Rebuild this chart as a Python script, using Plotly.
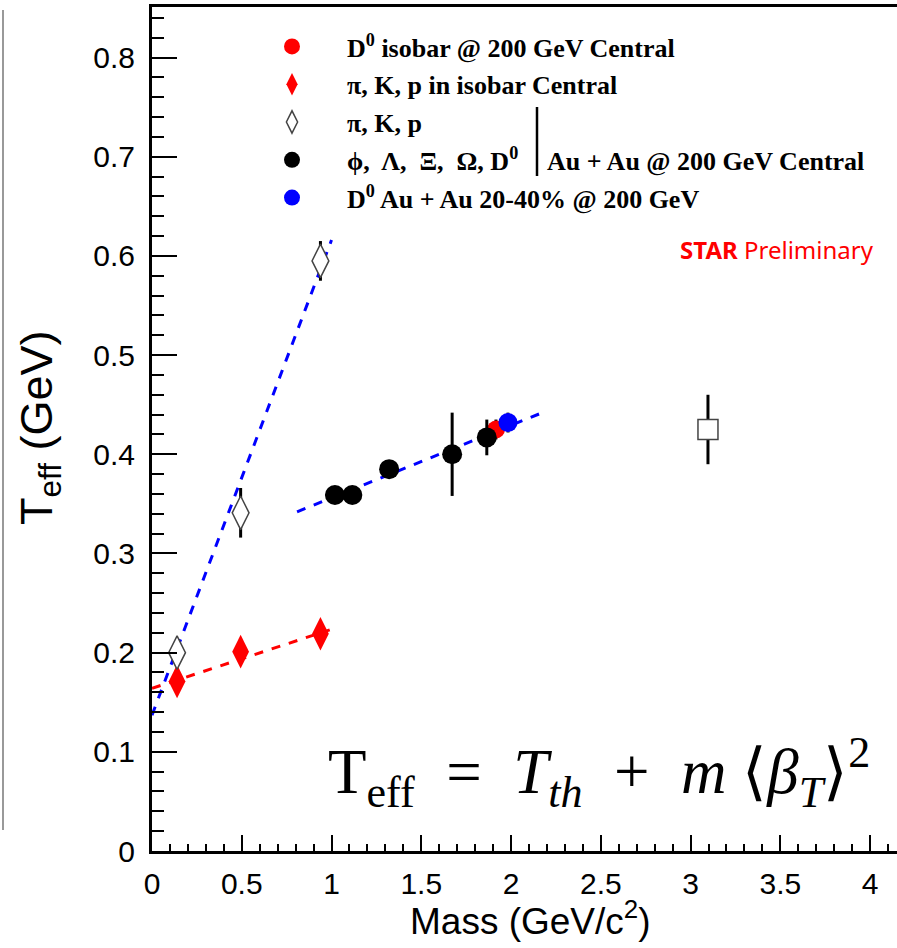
import plotly.graph_objects as go

# ---- data ----
pkp_mass = [0.1396, 0.4937, 0.9383]
pkp_auau_T = [0.200, 0.341, 0.595]
pkp_auau_err = [0.004, 0.025, 0.020]
pkp_iso_T = [0.171, 0.201, 0.219]
pkp_iso_err = [0.003, 0.006, 0.005]

hyp_mass = [1.019, 1.116, 1.321, 1.672, 1.865]
hyp_T = [0.359, 0.359, 0.385, 0.400, 0.417]
hyp_err = [0.004, 0.004, 0.005, 0.042, 0.018]

d0_iso_mass = [1.916]
d0_iso_T = [0.425]
d0_iso_err = [0.010]

d0_mid_mass = [1.983]
d0_mid_T = [0.432]
d0_mid_err = [0.010]

jpsi_mass = [3.097]
jpsi_T = [0.425]
jpsi_err = [0.035]

# fit lines (end points)
fit_pkp_auau_x = [0.0, 1.0]
fit_pkp_auau_y = [0.137, 0.616]
fit_pkp_iso_x = [0.0, 0.99]
fit_pkp_iso_y = [0.164, 0.223]
fit_heavy_x = [0.808, 2.195]
fit_heavy_y = [0.342, 0.4435]

x_ticks = [0, 0.5, 1, 1.5, 2, 2.5, 3, 3.5, 4]
x_tick_text = ["0", "0.5", "1", "1.5", "2", "2.5", "3", "3.5", "4"]
y_ticks = [0, 0.1, 0.2, 0.3, 0.4, 0.5, 0.6, 0.7, 0.8]
y_tick_text = ["0", "0.1", "0.2", "0.3", "0.4", "0.5", "0.6", "0.7", "0.8"]

legend_labels = [
    "D<sup>0</sup> isobar @ 200 GeV Central",
    "π, K, p in isobar Central",
    "π, K, p",
    "ϕ,  Λ,  Ξ,  Ω, D<sup>0</sup>",
    "D<sup>0</sup> Au + Au 20-40% @ 200 GeV",
]

fig = go.Figure()

# fit lines
fig.add_trace(go.Scatter(x=fit_pkp_auau_x, y=fit_pkp_auau_y, mode="lines",
                         line=dict(color="#0000ff", width=3, dash="dash"),
                         showlegend=False, hoverinfo="skip"))
fig.add_trace(go.Scatter(x=fit_pkp_iso_x, y=fit_pkp_iso_y, mode="lines",
                         line=dict(color="#ff0000", width=3, dash="dash"),
                         showlegend=False, hoverinfo="skip"))
fig.add_trace(go.Scatter(x=fit_heavy_x, y=fit_heavy_y, mode="lines",
                         line=dict(color="#0000ff", width=3, dash="dash"),
                         showlegend=False, hoverinfo="skip"))

eb = dict(type="data", color="black", thickness=3, width=0)

fig.add_trace(go.Scatter(
    x=d0_iso_mass, y=d0_iso_T, mode="markers", name=legend_labels[0], legendgroup="a",
    error_y=dict(array=d0_iso_err, **eb),
    marker=dict(symbol="circle", size=18, color="#ff0000")))
fig.add_trace(go.Scatter(
    x=pkp_mass, y=pkp_iso_T, mode="markers", name=legend_labels[1], legendgroup="b",
    error_y=dict(array=pkp_iso_err, **eb),
    marker=dict(symbol="diamond-tall", size=24, color="#ff0000")))
fig.add_trace(go.Scatter(
    x=pkp_mass, y=pkp_auau_T, mode="markers", name=legend_labels[2], legendgroup="c",
    error_y=dict(array=pkp_auau_err, **eb),
    marker=dict(symbol="diamond-tall", size=24, color="white",
                line=dict(color="#444444", width=1.5))))
fig.add_trace(go.Scatter(
    x=hyp_mass, y=hyp_T, mode="markers", name=legend_labels[3], legendgroup="d",
    error_y=dict(array=hyp_err, **eb),
    marker=dict(symbol="circle", size=20, color="black")))
fig.add_trace(go.Scatter(
    x=d0_mid_mass, y=d0_mid_T, mode="markers", name=legend_labels[4], legendgroup="e",
    error_y=dict(array=d0_mid_err, **eb),
    marker=dict(symbol="circle", size=19, color="#0000ff")))
fig.add_trace(go.Scatter(
    x=jpsi_mass, y=jpsi_T, mode="markers", showlegend=False,
    error_y=dict(array=jpsi_err, **eb),
    marker=dict(symbol="square", size=20, color="white",
                line=dict(color="#444444", width=1.5))))

W, H = 897, 948
L, R, T, B = 152, 0, 7, 97
pw, ph = W - L - R, H - T - B

def px(xp):
    return (xp - L) / pw

def py(yp):
    return (H - B - yp) / ph

fig.update_layout(
    width=W, height=H,
    margin=dict(l=L, r=R, t=T, b=B),
    paper_bgcolor="white", plot_bgcolor="white",
    font=dict(family="Liberation Sans, Arial, sans-serif", color="black"),
    showlegend=True,
    legend=dict(
        x=px(237), y=py(23), xanchor="left", yanchor="top",
        bgcolor="rgba(0,0,0,0)",
        font=dict(family="Liberation Serif, Times New Roman, serif", size=26, color="black", weight=700),
        tracegroupgap=1, itemwidth=100,
    ),
    xaxis=dict(
        range=[0, 4.15], tickvals=x_ticks, ticktext=x_tick_text,
        ticks="inside", ticklen=16, tickwidth=1.5, tickcolor="black",
        minor=dict(dtick=0.1, ticks="inside", ticklen=7, tickwidth=1.5, tickcolor="black", tick0=0),
        showline=True, linecolor="black", linewidth=3, mirror=True,
        showgrid=False, zeroline=False,
        tickfont=dict(size=30, family="Liberation Sans, Arial, sans-serif"),
        ticklabelstandoff=4,
    ),
    yaxis=dict(
        range=[0, 0.851], tickvals=y_ticks, ticktext=y_tick_text,
        ticks="inside", ticklen=25, tickwidth=1.5, tickcolor="black",
        minor=dict(dtick=0.02, ticks="inside", ticklen=12, tickwidth=1.5, tickcolor="black", tick0=0),
        showline=True, linecolor="black", linewidth=3, mirror=False,
        showgrid=False, zeroline=False,
        tickfont=dict(size=30, family="Liberation Sans, Arial, sans-serif"),
        ticklabelstandoff=8,
    ),
)

# axis titles
fig.add_annotation(xref="paper", yref="paper", x=px(530), y=py(918),
                   text="Mass (GeV/c<sup>2</sup>)", showarrow=False,
                   font=dict(size=37, family="Liberation Sans, Arial, sans-serif"),
                   xanchor="center", yanchor="middle")
fig.add_annotation(xref="paper", yref="paper", x=px(40), y=py(428),
                   text="T<sub>eff</sub> (GeV)", showarrow=False, textangle=-90,
                   font=dict(size=45, family="Liberation Sans, Arial, sans-serif"),
                   xanchor="center", yanchor="middle")

# bracket line and group text in legend
fig.add_shape(type="line", xref="paper", yref="paper",
              x0=px(537), x1=px(537), y0=py(107), y1=py(176),
              line=dict(color="black", width=2.5))
fig.add_annotation(xref="paper", yref="paper", x=px(545), y=py(161),
                   text="Au + Au @ 200 GeV Central", showarrow=False,
                   font=dict(size=26, family="Liberation Serif, Times New Roman, serif", weight=700),
                   xanchor="left", yanchor="middle")

# STAR Preliminary
fig.add_annotation(xref="paper", yref="paper", x=px(876), y=py(249),
                   text="<b>STAR</b> Preliminary", showarrow=False,
                   font=dict(size=24, color="#ff0000", family="Noto Sans, Open Sans, sans-serif"),
                   xanchor="right", yanchor="middle")

# formula
fig.add_annotation(xref="paper", yref="paper", x=px(872), y=py(772),
                   text="T<sub>eff</sub>&nbsp; = &nbsp;<i>T<sub>th</sub></i>&nbsp; + &nbsp;<i>m</i>&nbsp;⟨<i>β<sub>T</sub></i>⟩<sup>2</sup>",
                   showarrow=False,
                   font=dict(size=63, family="Liberation Serif, Times New Roman, serif"),
                   xanchor="right", yanchor="middle")

# left gray crop line
fig.add_shape(type="line", xref="paper", yref="paper",
              x0=px(3), x1=px(3), y0=py(10), y1=py(830),
              line=dict(color="#999999", width=2))

fig.write_html("out.html")
